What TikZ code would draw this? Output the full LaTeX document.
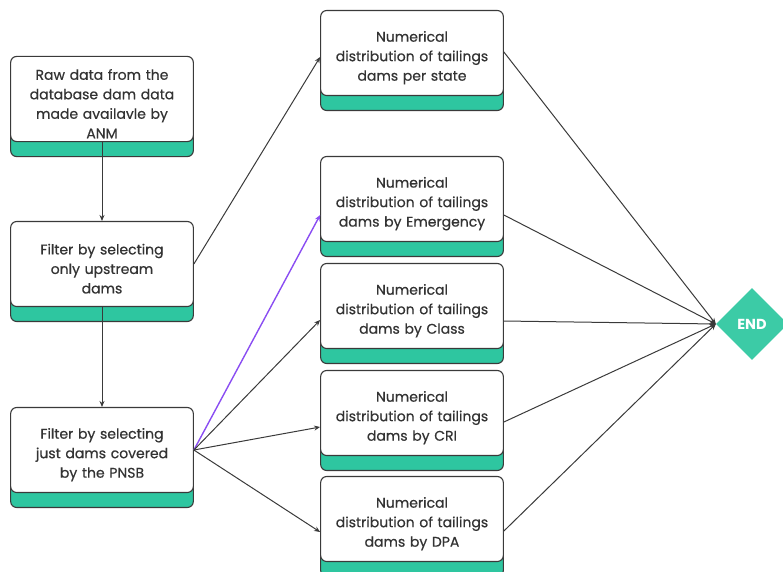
\documentclass[tikz,border=0pt]{standalone}
\usepackage{fontspec}
\setmainfont{Poppins}
\newfontfamily\cardfont{Poppins}[FakeBold=0.5]
\usetikzlibrary{arrows.meta,shapes.geometric}
\definecolor{edgegray}{HTML}{3A3A3A}
\definecolor{cardgreen}{HTML}{2EC6A0}
\definecolor{endgreen}{HTML}{3CCBA6}
\definecolor{textgray}{HTML}{333333}
\definecolor{linkviolet}{HTML}{8A4DF2}
\tikzset{
  card/.style={draw=edgegray, fill=white, line width=1.1pt, rounded corners=6pt,
    minimum width=181pt, minimum height=85pt, text width=176pt, align=center,
    text=textgray, font=\cardfont\fontsize{14}{19.5}\selectfont,
    execute at begin node={\rule{0pt}{20pt}},
    preaction={draw=edgegray, fill=cardgreen, line width=1.1pt,
      transform canvas={yshift=-15pt}}},
  link/.style={draw=edgegray, line width=1pt, -{Stealth[length=6pt,width=5pt]}}
}
\begin{document}
\begin{tikzpicture}[x=1pt,y=-1pt]
\useasboundingbox (0,0) rectangle (783,571);

\node[card] (raw) at (102,99) {Raw data from the\\database dam data\\made availavle by\\ANM};
\node[card] (upstream) at (102,264) {Filter by selecting\\only upstream\\dams};
\node[card] (pnsb) at (102,450) {Filter by selecting\\just dams covered\\by the PNSB};

\node[card] (state) at (412,53) {Numerical\\distribution of tailings\\dams per state};
\node[card] (emerg) at (412,199) {Numerical\\distribution of tailings\\dams by Emergency};
\node[card] (class) at (412,306) {Numerical\\distribution of tailings\\dams by Class};
\node[card] (cri) at (412,413) {Numerical\\distribution of tailings\\dams by CRI};
\node[card] (dpa) at (412,519) {Numerical\\distribution of tailings\\dams by DPA};

\node[diamond, fill=endgreen, minimum width=72pt, minimum height=72pt, inner sep=0pt,
  text=white, font=\fontsize{14.5}{14.5}\selectfont\bfseries] (end) at (752,324) {END};

\path[link] (raw) -- (upstream);
\path[link] (upstream) -- (pnsb);

\path[link] (upstream.east) -- ([yshift=-4pt]state.west);
\path[link, draw=linkviolet, line width=1.4pt] (pnsb.east) -- ([yshift=-16pt]emerg.west);
\path[link] (pnsb.east) -- ([yshift=-14pt]class.west);
\path[link] (pnsb.east) -- ([yshift=-14pt]cri.west);
\path[link] (pnsb.east) -- ([yshift=-13pt]dpa.west);

\path[link] ([yshift=1pt]state.east) -- (end.west);
\path[link] ([yshift=-16pt]emerg.east) -- (end.west);
\path[link] ([yshift=-15pt]class.east) -- (end.west);
\path[link] ([yshift=-9pt]cri.east) -- (end.west);
\path[link] ([yshift=-12pt]dpa.east) -- (end.west);
\end{tikzpicture}
\end{document}
